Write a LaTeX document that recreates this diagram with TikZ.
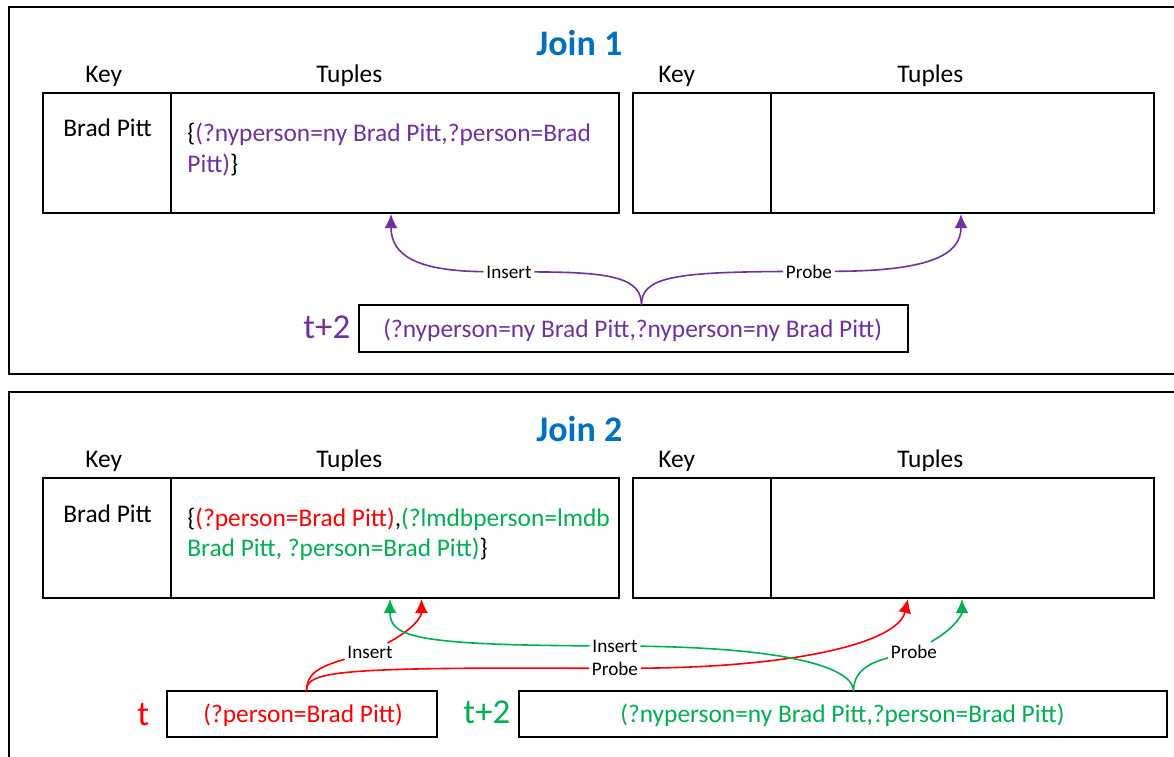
\documentclass[tikz,border=0pt]{standalone}
\usepackage{fontspec}
\setmainfont{Carlito}
\usetikzlibrary{arrows.meta}
\definecolor{jpurple}{RGB}{112,48,160}
\definecolor{jred}{RGB}{255,0,0}
\definecolor{jgreen}{RGB}{0,176,80}
\definecolor{jblue}{RGB}{0,112,192}
\begin{document}
\begin{tikzpicture}[x=0.5pt,y=-0.5pt,
 box/.style={draw=black,line width=1pt,inner sep=0pt},
 txt/.style={font=\fontsize{12.7}{15.5}\selectfont,inner sep=0pt,anchor=base west},
 lbl/.style={font=\fontsize{9.6}{11}\selectfont,inner sep=1.2pt,anchor=base},
 ttl/.style={font=\fontsize{18}{21}\selectfont\bfseries,text=jblue,inner sep=0pt,anchor=base west},
 tm/.style={font=\fontsize{17.5}{20}\selectfont,inner sep=0pt,anchor=base west},
 conn/.style={line width=0.8pt,-{Latex[length=7pt,width=6.5pt]}},
 seg/.style={line width=0.8pt},
 frame/.style={draw=black,line width=1pt}]
\useasboundingbox (0,0) rectangle (1174,756);
\clip (0,0) rectangle (1174,756);

% ---------- frames ----------
\draw[frame] (9,7) rectangle (1190,374);
\draw[frame] (9,392) rectangle (1190,780);

% ---------- Join 1 ----------
\node[ttl] (title1) at (536,55) {Join 1};
\node[txt] (key1) at (85,82) {Key};
\node[txt] (tup1) at (316,82) {Tuples};
\node[txt] (key1r) at (658,82) {Key};
\node[txt] (tup1r) at (897,82) {Tuples};

\node[box,minimum width=64pt,minimum height=60pt] (k1) at (107,153) {};
\node[box,minimum width=224pt,minimum height=60pt] (tp1) at (395,153) {};
\node[box,minimum width=68.75pt,minimum height=60pt] (k1r) at (702,153) {};
\node[box,minimum width=191.75pt,minimum height=60pt] (tp1r) at (962.25,153) {};

\node[txt] (bp1) at (63,136) {Brad Pitt};
\node[txt] (t1a) at (187,141) {\{\textcolor{jpurple}{(?nyperson=ny Brad Pitt,?person=Brad}};
\node[txt] (t1b) at (187,172) {\textcolor{jpurple}{Pitt)}\}};

\node[box,minimum width=274.5pt,minimum height=23.5pt] (in1) at (633.5,328.5) {};
\node[txt,text=jpurple] (in1t) at (383,337) {(?nyperson=ny Brad Pitt,?nyperson=ny Brad Pitt)};
\node[tm,text=jpurple] (tm1) at (303,338) {t+2};

\coordinate (s1) at (641.5,305);
\coordinate (t1in) at (391,214);
\coordinate (t1pr) at (961,214);
\node[lbl] (ins1) at (509,278) {Insert};
\node[lbl] (prb1) at (809,278) {Probe};

\draw[seg,jpurple] (s1) .. controls (641.5,278) and (612,272) .. (ins1);
\draw[conn,jpurple] (ins1) .. controls (418,271) and (391,256) .. (t1in);
\draw[seg,jpurple] (s1) .. controls (641.5,278) and (671,272) .. (prb1);
\draw[conn,jpurple] (prb1) .. controls (932,271) and (961,254) .. (t1pr);

% ---------- Join 2 ----------
\node[ttl] (title2) at (536,441) {Join 2};
\node[txt] (key2) at (85,467) {Key};
\node[txt] (tup2) at (316,467) {Tuples};
\node[txt] (key2r) at (658,467) {Key};
\node[txt] (tup2r) at (897,467) {Tuples};

\node[box,minimum width=64pt,minimum height=60pt] (k2) at (107,538) {};
\node[box,minimum width=224pt,minimum height=60pt] (tp2) at (395,538) {};
\node[box,minimum width=68.75pt,minimum height=60pt] (k2r) at (702,538) {};
\node[box,minimum width=191.75pt,minimum height=60pt] (tp2r) at (962.25,538) {};

\node[txt] (bp2) at (63,522) {Brad Pitt};
\node[txt] (t2a) at (187,526) {\{\textcolor{jred}{(?person=Brad Pitt)},\textcolor{jgreen}{(?lmdbperson=lmdb}};
\node[txt] (t2b) at (187,556) {\textcolor{jgreen}{Brad Pitt, ?person=Brad Pitt)}\}};

\node[box,minimum width=135pt,minimum height=23pt] (inr) at (302,714) {};
\node[txt,text=jred] (inrt) at (203,722) {(?person=Brad Pitt)};
\node[tm,text=jred] (tmr) at (137,725) {t};

\node[box,minimum width=324pt,minimum height=23pt] (ing) at (843,714) {};
\node[txt,text=jgreen] (ingt) at (620,722) {(?nyperson=ny Brad Pitt,?person=Brad Pitt)};
\node[tm,text=jgreen] (tmg) at (463,723) {t+2};

\coordinate (rsrc) at (306.5,691);
\coordinate (gsrc) at (853.5,691);
\coordinate (t2gin) at (390,599);
\coordinate (t2rin) at (421.5,599);
\coordinate (t2rpr) at (908,599);
\coordinate (t2gpr) at (962,599);

\node[lbl] (rins) at (370,658) {Insert};
\node[lbl] (gins) at (615,652) {Insert};
\node[lbl] (rprb) at (615,675) {Probe};
\node[lbl] (gprb) at (914,658) {Probe};

% red
\draw[seg,jred] (rsrc) .. controls (306.5,674) and (318,667) .. (rins);
\draw[conn,jred] (rins) .. controls (405,634) and (421.5,620) .. (t2rin);
\draw[seg,jred] (rsrc) .. controls (306.5,672) and (330,667) .. (rprb);
\draw[conn,jred] (rprb) .. controls (800,667) and (898,642) .. (t2rpr);
% green
\draw[seg,jgreen] (gsrc) .. controls (853.5,668) and (790,648) .. (gins);
\draw[conn,jgreen] (gins) .. controls (412,645) and (390,636) .. (t2gin);
\draw[seg,jgreen] (gsrc) .. controls (853.5,672) and (868,663) .. (gprb);
\draw[conn,jgreen] (gprb) .. controls (952,630) and (962,616) .. (t2gpr);
\end{tikzpicture}
\end{document}
